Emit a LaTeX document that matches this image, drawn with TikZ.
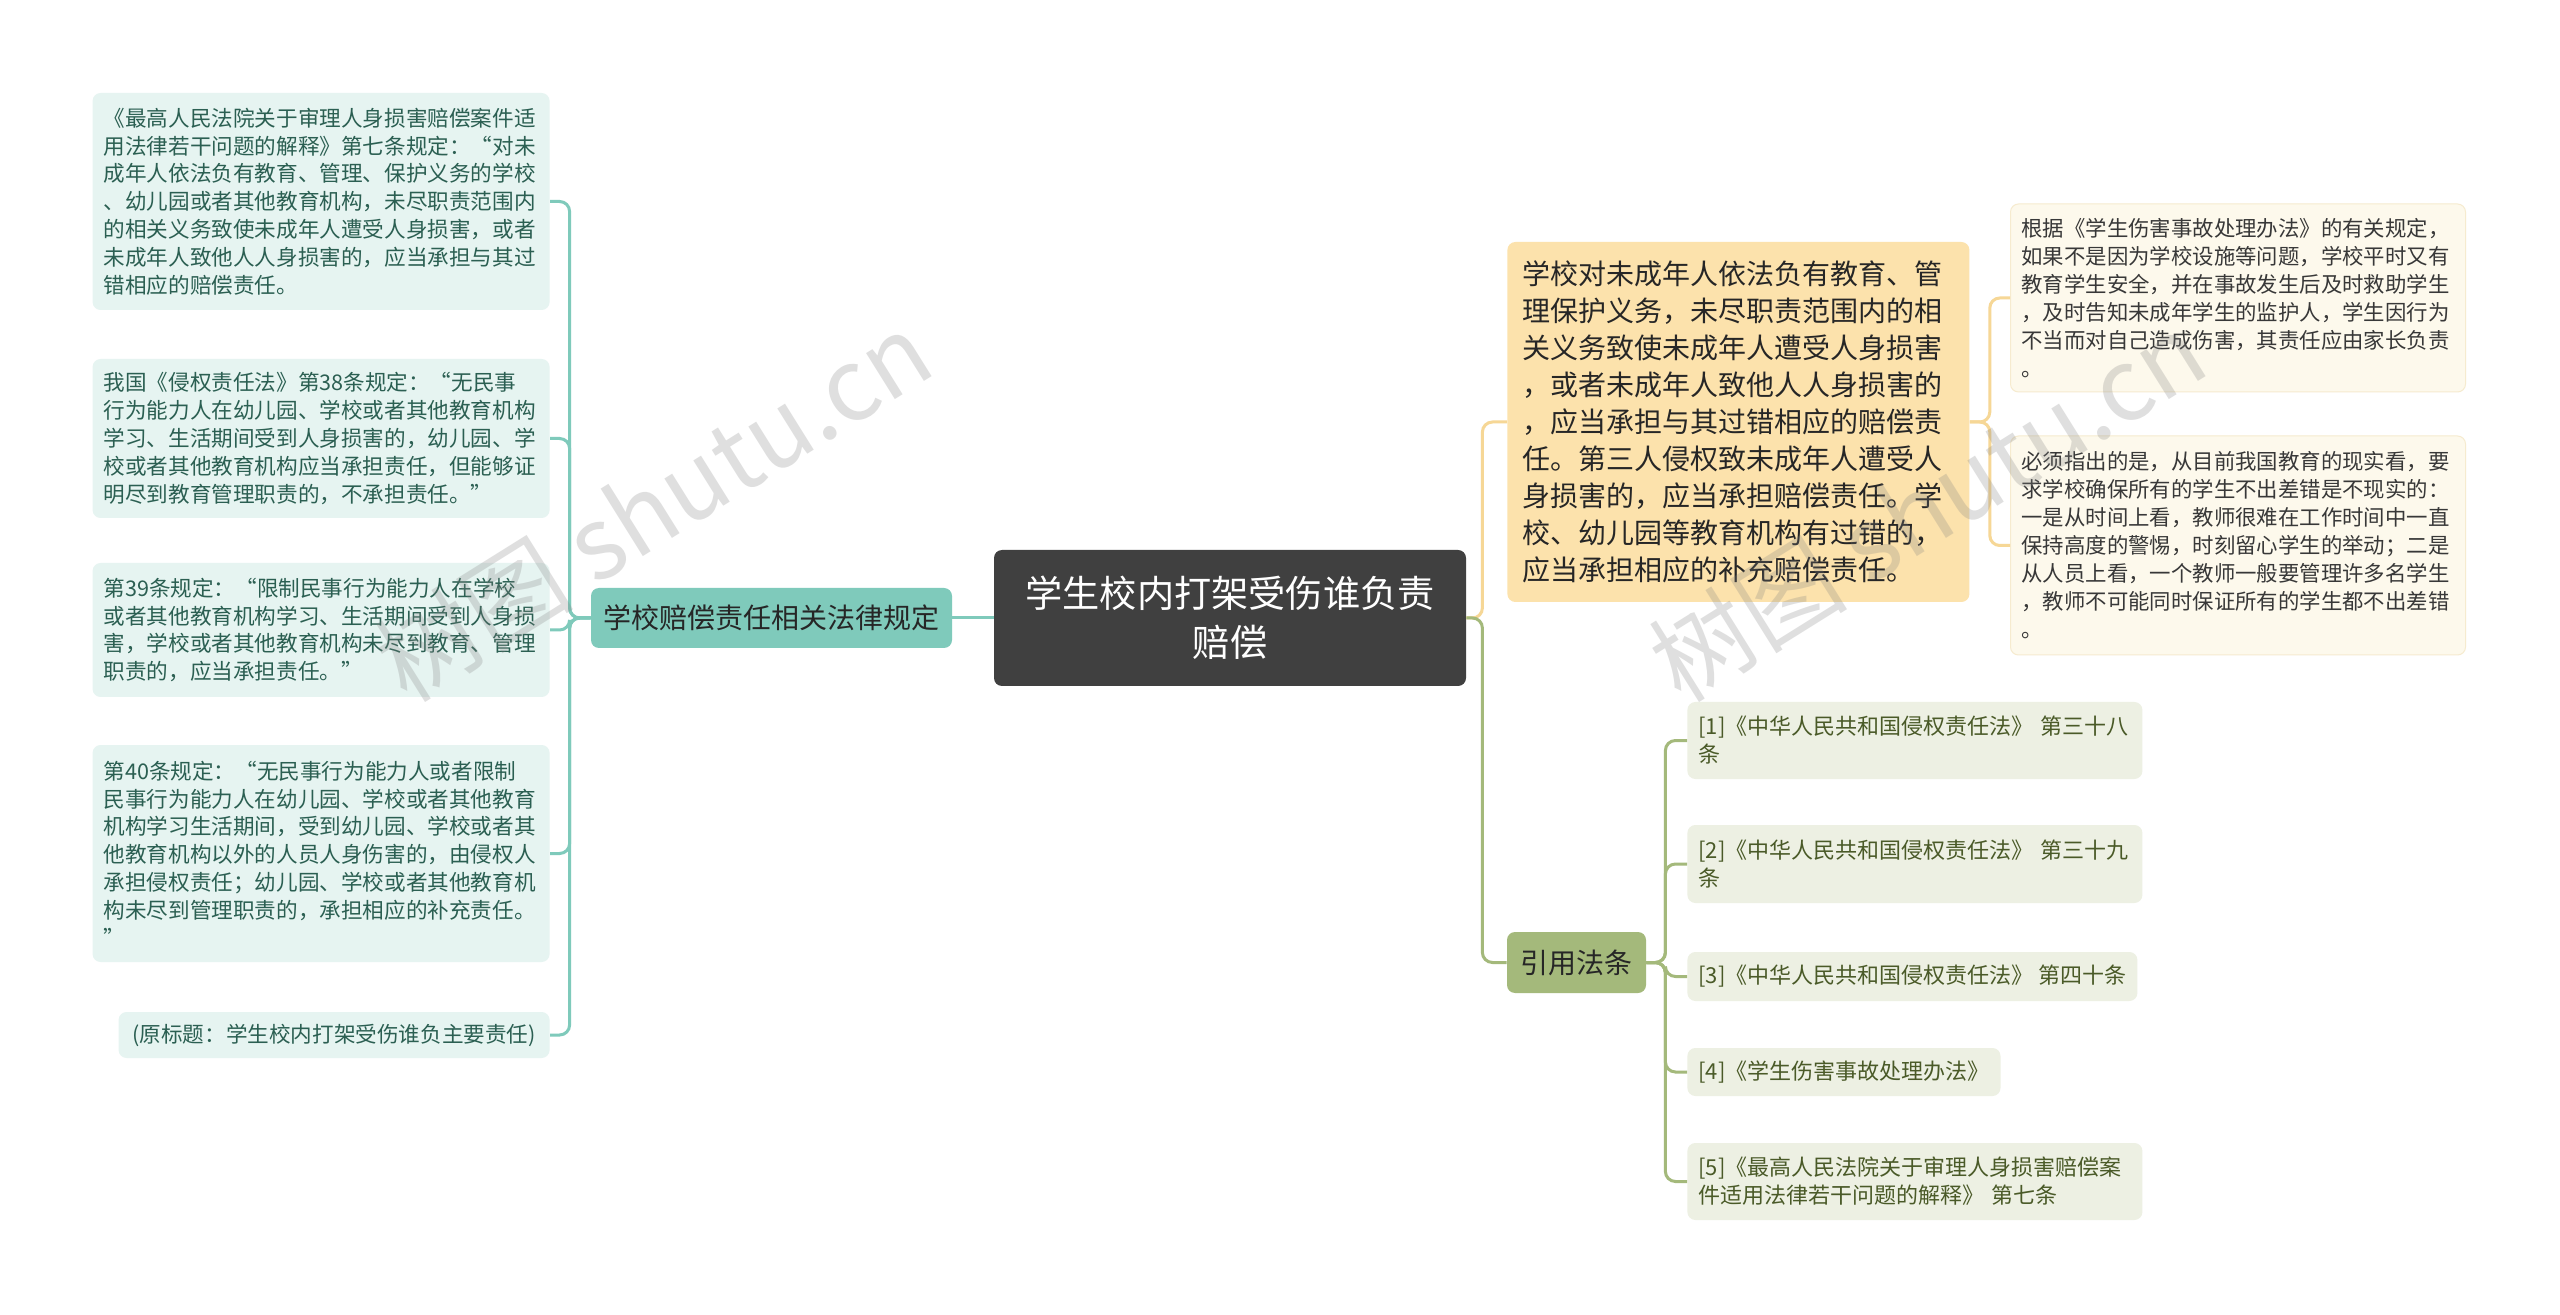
\documentclass[tikz,border=0pt]{standalone}
\usepackage{fontspec}
\setmainfont{Noto Sans CJK SC}
\usepackage{xcolor}
\usetikzlibrary{positioning}

\definecolor{rootfill}{HTML}{404040}
\definecolor{tealfill}{HTML}{7FCABB}
\definecolor{tealleaf}{HTML}{E6F4F1}
\definecolor{tealtext}{HTML}{2B5F52}
\definecolor{yellowfill}{HTML}{FCE2AC}
\definecolor{yellowline}{HTML}{F6D796}
\definecolor{creamfill}{HTML}{FDF9EC}
\definecolor{creamline}{HTML}{F6EBCF}
\definecolor{olivefill}{HTML}{A4B97B}
\definecolor{oliveleaf}{HTML}{EDF0E3}
\definecolor{olivetext}{HTML}{4A5A28}

\begin{document}
\begin{tikzpicture}[x=0.5pt,y=-0.5pt,
  box/.style={rounded corners=4pt, inner ysep=0pt},
  leafbox/.style={box, fill=tealleaf, text=tealtext, anchor=east, align=left,
    inner xsep=5.5pt, text width=217.5pt, font=\fontsize{10.8pt}{13.9pt}\selectfont},
  creambox/.style={box, fill=creamfill, draw=creamline, line width=0.5pt, text=black!78,
    anchor=west, align=left, inner xsep=5.5pt, text width=216.5pt,
    font=\fontsize{10.7pt}{14pt}\selectfont},
  citebox/.style={box, fill=oliveleaf, text=olivetext, anchor=west, align=left,
    inner xsep=5.5pt, font=\fontsize{11pt}{14pt}\selectfont},
  tealwire/.style={draw=tealfill, line width=1.5pt, rounded corners=5pt},
  yellowwire/.style={draw=yellowline, line width=1.5pt, rounded corners=5pt},
  olivewire/.style={draw=olivefill, line width=1.5pt, rounded corners=5pt}]

  \useasboundingbox[fill=white] (0,0) rectangle (2560,1315);

  % centre
  \node[box, fill=rootfill, text=white, align=center, minimum width=236pt, minimum height=68pt,
    font=\fontsize{18.6pt}{24.5pt}\selectfont] (root) at (1230,618) {学生校内打架受伤谁负责\\赔偿};

  % left side
  \node[box, fill=tealfill, text=black!85, minimum width=180.5pt, minimum height=30pt,
    font=\fontsize{14pt}{17pt}\selectfont] (law) at (771.5,618) {学校赔偿责任相关法律规定};

  \node[leafbox, minimum height=108.5pt] (law1) at (550,201.5) {《最高人民法院关于审理人身损害赔偿案件适\\用法律若干问题的解释》第七条规定：“对未\\成年人依法负有教育、管理、保护义务的学校\\、幼儿园或者其他教育机构，未尽职责范围内\\的相关义务致使未成年人遭受人身损害，或者\\未成年人致他人人身损害的，应当承担与其过\\错相应的赔偿责任。};
  \node[leafbox, minimum height=79.5pt] (law2) at (550,438.5) {我国《侵权责任法》第38条规定：“无民事\\行为能力人在幼儿园、学校或者其他教育机构\\学习、生活期间受到人身损害的，幼儿园、学\\校或者其他教育机构应当承担责任，但能够证\\明尽到教育管理职责的，不承担责任。”};
  \node[leafbox, minimum height=67pt] (law3) at (550,630) {第39条规定：“限制民事行为能力人在学校\\或者其他教育机构学习、生活期间受到人身损\\害，学校或者其他教育机构未尽到教育、管理\\职责的，应当承担责任。”};
  \node[leafbox, minimum height=108.5pt] (law4) at (550,853.5) {第40条规定：“无民事行为能力人或者限制\\民事行为能力人在幼儿园、学校或者其他教育\\机构学习生活期间，受到幼儿园、学校或者其\\他教育机构以外的人员人身伤害的，由侵权人\\承担侵权责任；幼儿园、学校或者其他教育机\\构未尽到管理职责的，承担相应的补充责任。\\”};
  \node[box, fill=tealleaf, text=tealtext, anchor=east, minimum width=215.5pt, minimum height=23pt,
    font=\fontsize{10.8pt}{13.9pt}\selectfont] (law5) at (550,1035) {(原标题：学生校内打架受伤谁负主要责任)};

  \draw[tealwire] (root.west) -- (law.east);
  \foreach \n in {law1,law2,law3,law4,law5}
    \draw[tealwire] (law.west) -- ++(-21,0) |- (\n.east);

  % right side, upper
  \node[box, fill=yellowfill, text=black!85, anchor=west, align=left, inner xsep=7.5pt,
    text width=216pt, minimum height=180pt, font=\fontsize{14pt}{18.5pt}\selectfont] (duty) at (1507,422) {学校对未成年人依法负有教育、管\\理保护义务，未尽职责范围内的相\\关义务致使未成年人遭受人身损害\\，或者未成年人致他人人身损害的\\，应当承担与其过错相应的赔偿责\\任。第三人侵权致未成年人遭受人\\身损害的，应当承担赔偿责任。学\\校、幼儿园等教育机构有过错的，\\应当承担相应的补充赔偿责任。};

  \node[creambox, minimum height=94pt] (note1) at (2010,298) {根据《学生伤害事故处理办法》的有关规定，\\如果不是因为学校设施等问题，学校平时又有\\教育学生安全，并在事故发生后及时救助学生\\，及时告知未成年学生的监护人，学生因行为\\不当而对自己造成伤害，其责任应由家长负责\\。};
  \node[creambox, minimum height=109.5pt] (note2) at (2010,545.5) {必须指出的是，从目前我国教育的现实看，要\\求学校确保所有的学生不出差错是不现实的：\\一是从时间上看，教师很难在工作时间中一直\\保持高度的警惕，时刻留心学生的举动；二是\\从人员上看，一个教师一般要管理许多名学生\\，教师不可能同时保证所有的学生都不出差错\\。};

  \draw[yellowwire] (root.east) -- ++(16,0) |- (duty.west);
  \draw[yellowwire] (duty.east) -- ++(20,0) |- (note1.west);
  \draw[yellowwire] (duty.east) -- ++(20,0) |- (note2.west);

  % right side, lower
  \node[box, fill=olivefill, text=black!85, minimum width=69.5pt, minimum height=30.5pt,
    font=\fontsize{14pt}{17pt}\selectfont] (cite) at (1576.5,962.5) {引用法条};

  \node[citebox, text width=216.5pt, minimum height=38.5pt] (cite1) at (1687,740.5) {[1]《中华人民共和国侵权责任法》 第三十八\\条};
  \node[citebox, text width=216.5pt, minimum height=39pt] (cite2) at (1687,864) {[2]《中华人民共和国侵权责任法》 第三十九\\条};
  \node[citebox, minimum height=24.5pt] (cite3) at (1687,976.5) {[3]《中华人民共和国侵权责任法》 第四十条};
  \node[citebox, minimum height=24pt] (cite4) at (1687,1072) {[4]《学生伤害事故处理办法》};
  \node[citebox, text width=216.5pt, minimum height=38.5pt] (cite5) at (1687,1181.5) {[5]《最高人民法院关于审理人身损害赔偿案\\件适用法律若干问题的解释》 第七条};

  \draw[olivewire] (root.east) -- ++(16,0) |- (cite.west);
  \foreach \n in {cite1,cite2,cite3,cite4,cite5}
    \draw[olivewire] (cite.east) -- ++(19,0) |- (\n.west);

  % watermarks
  \node[text=gray, opacity=0.25, rotate=32, font=\fontsize{50pt}{50pt}\selectfont] (mark1) at (653,506) {树图 shutu.cn};
  \node[text=gray, opacity=0.25, rotate=32, font=\fontsize{50pt}{50pt}\selectfont] (mark2) at (1927,506) {树图 shutu.cn};
\end{tikzpicture}
\end{document}
